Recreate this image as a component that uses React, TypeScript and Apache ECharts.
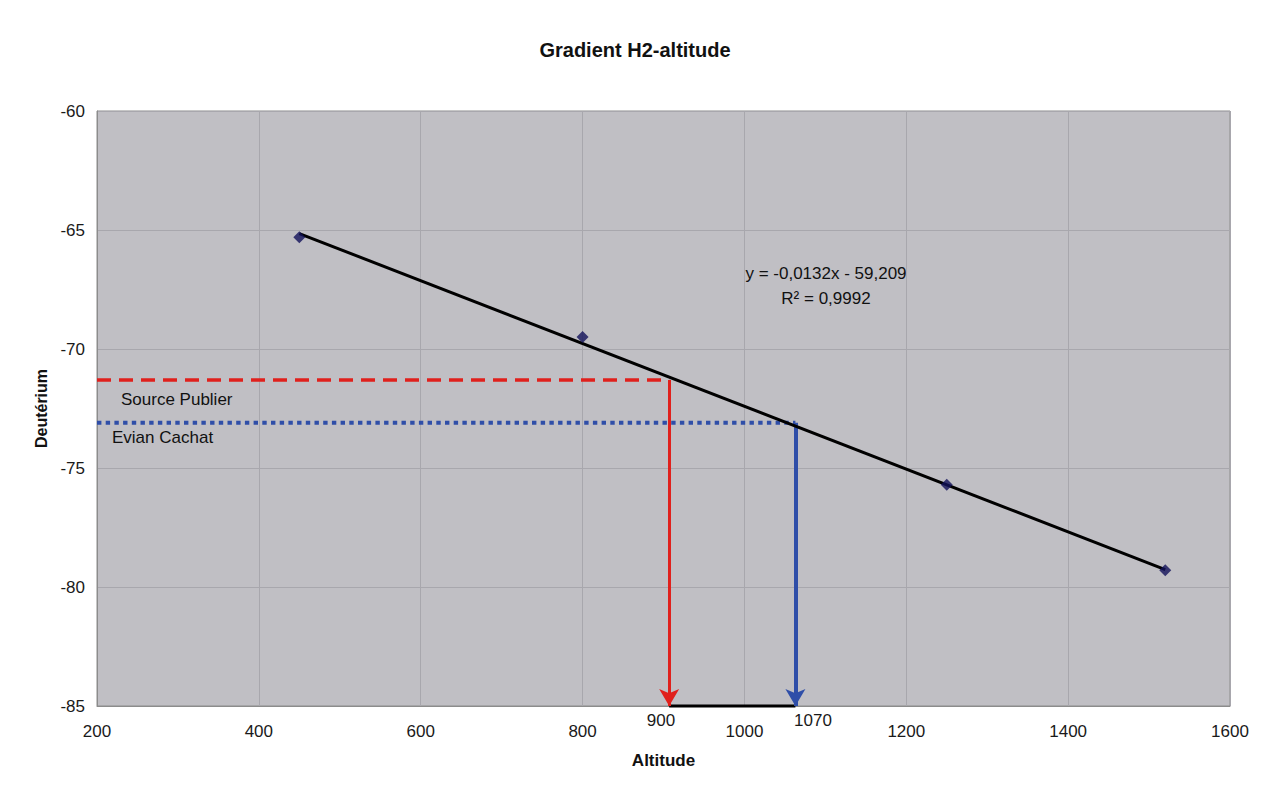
import React, { useEffect, useRef } from "react";
import * as echarts from "echarts";

const xTicks = [200, 400, 600, 800, 1000, 1200, 1400, 1600];
const yTicks = [-85, -80, -75, -70, -65, -60];
const pointsX = [450, 800, 1250, 1520];
const pointsY = [-65.3, -69.5, -75.7, -79.3];
const trendX = [450, 1520];
const trendY = [-65.15, -79.27];
const sourceAlt = 907;
const sourceD = -71.3;
const evianAlt = 1063;
const evianD = -73.1;
const sourceLabel = "900";
const evianLabel = "1070";
const equation = "y = -0,0132x - 59,209";
const r2 = "R² = 0,9992";

export default function App() {
  const ref = useRef<HTMLDivElement>(null);
  useEffect(() => {
    const chart = echarts.init(ref.current!, null, { renderer: "svg" });
    const font = "'Liberation Sans', Arial, sans-serif";
    const yMin = yTicks[0];
    const option: any = {
      animation: false,
      backgroundColor: "#ffffff",
      textStyle: { fontFamily: font },
      title: {
        text: "Gradient H2-altitude",
        left: "center",
        top: 35,
        textStyle: { fontSize: 20, fontWeight: "bold", color: "#111", fontFamily: font },
      },
      grid: {
        left: 97,
        right: 40,
        top: 111,
        bottom: 81,
        show: true,
        backgroundColor: "#c0bfc4",
        borderColor: "#8c8c8c",
        borderWidth: 1,
      },
      xAxis: {
        type: "value",
        min: xTicks[0],
        max: xTicks[xTicks.length - 1],
        interval: 200,
        name: "Altitude",
        nameLocation: "middle",
        nameGap: 46,
        nameTextStyle: { fontSize: 17, fontWeight: "bold", color: "#111" },
        axisLine: { show: true, lineStyle: { color: "#8c8c8c" } },
        axisTick: { show: false },
        axisLabel: { fontSize: 17, color: "#1a1a1a", margin: 17, formatter: (v: number) => String(v) },
        splitLine: { show: true, lineStyle: { color: "#a8a7ad", width: 1 } },
      },
      yAxis: {
        type: "value",
        min: yMin,
        max: yTicks[yTicks.length - 1],
        interval: 5,
        name: "Deutérium",
        nameLocation: "middle",
        nameGap: 44,
        nameTextStyle: { fontSize: 16, fontWeight: "bold", color: "#111" },
        axisLine: { show: true, lineStyle: { color: "#8c8c8c" } },
        axisTick: { show: false },
        axisLabel: { fontSize: 17, color: "#1a1a1a", margin: 12 },
        splitLine: { show: true, lineStyle: { color: "#a8a7ad", width: 1 } },
      },
      series: [
        {
          type: "line",
          data: [[xTicks[0], sourceD], [sourceAlt, sourceD]],
          symbol: "none",
          clip: false,
          lineStyle: { color: "#e0201c", width: 3.5, type: [14, 8] },
          z: 3,
        },
        {
          type: "line",
          data: [[xTicks[0], evianD], [evianAlt, evianD]],
          symbol: "none",
          clip: false,
          lineStyle: { color: "#2f4ea8", width: 4, type: [4.4, 4.3] },
          z: 3,
        },
        {
          type: "line",
          data: [[sourceAlt, yMin], [evianAlt, yMin]],
          symbol: "none",
          clip: false,
          lineStyle: { color: "#000", width: 3 },
          z: 4,
        },
        {
          type: "line",
          data: trendX.map((x, i) => [x, trendY[i]]),
          symbol: "none",
          lineStyle: { color: "#000", width: 3 },
          z: 5,
        },
        {
          type: "scatter",
          data: pointsX.map((x, i) => [x, pointsY[i]]),
          symbol: "diamond",
          symbolSize: 12,
          itemStyle: { color: "#12115a" },
          z: 6,
          markLine: {
            silent: true,
            symbol: ["none", "arrow"],
            symbolSize: [15, 17],
            label: { show: false },
            data: [
              [
                { coord: [sourceAlt, sourceD], lineStyle: { color: "#e0201c", width: 3, type: "solid" } },
                { coord: [sourceAlt, yMin] },
              ],
              [
                { coord: [evianAlt, evianD], lineStyle: { color: "#2f4ea8", width: 4, type: "solid" } },
                { coord: [evianAlt, yMin] },
              ],
            ],
          },
        },
      ],
      graphic: [
        { type: "text", x: 826, y: 273, style: { text: equation, fontSize: 17, fill: "#111", fontFamily: font, align: "center", verticalAlign: "middle" } },
        { type: "text", x: 826, y: 298, style: { text: r2, fontSize: 17, fill: "#111", fontFamily: font, align: "center", verticalAlign: "middle" } },
        { type: "text", x: 121, y: 399, style: { text: "Source Publier", fontSize: 17, fill: "#111", fontFamily: font, verticalAlign: "middle" } },
        { type: "text", x: 112, y: 437, style: { text: "Evian Cachat", fontSize: 17, fill: "#111", fontFamily: font, verticalAlign: "middle" } },
        { type: "text", x: 661, y: 720, style: { text: sourceLabel, fontSize: 17, fill: "#1a1a1a", fontFamily: font, align: "center", verticalAlign: "middle" } },
        { type: "text", x: 813, y: 720, style: { text: evianLabel, fontSize: 17, fill: "#1a1a1a", fontFamily: font, align: "center", verticalAlign: "middle" } },
      ],
    };
    chart.setOption(option);
    return () => chart.dispose();
  }, []);
  return (
    <div
      ref={ref}
      style={{ position: "fixed", left: 0, top: 0, width: 1270, height: 787 }}
    />
  );
}
